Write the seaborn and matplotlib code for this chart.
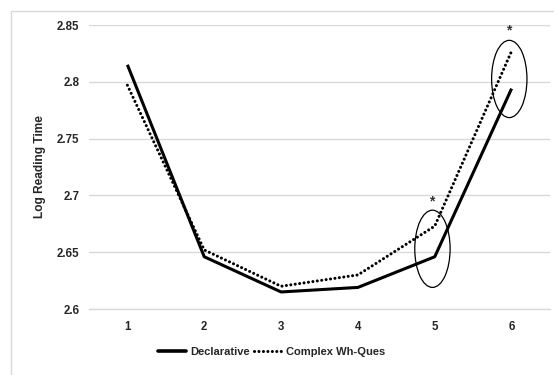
import pandas as pd
import numpy as np
import seaborn as sns
import matplotlib.pyplot as plt
from matplotlib.patches import Ellipse, Rectangle

# данные
positions = [1, 2, 3, 4, 5, 6]
declarative = [2.815, 2.646, 2.615, 2.619, 2.646, 2.794]
complex_wh = [2.797, 2.652, 2.620, 2.630, 2.673, 2.827]
series_names = ["Declarative", "Complex Wh-Ques"]

# отмеченные значимые различия (позиция, центр эллипса, звёздочка)
sig_positions = [5, 6]
ellipse_centers = [2.653, 2.8025]
star_y = [2.695, 2.8455]

df = pd.DataFrame({
    "pos": positions * 2,
    "rt": declarative + complex_wh,
    "cond": [series_names[0]] * 6 + [series_names[1]] * 6,
})

sns.set_style("white")
plt.rcParams["font.family"] = ["Liberation Sans", "DejaVu Sans"]
plt.rcParams["font.weight"] = "bold"

fig = plt.figure(figsize=(5.54, 3.75), dpi=100)
ax = fig.add_axes([0.1606, 0.176, 0.8322, 0.7573])

sns.lineplot(
    data=df, x="pos", y="rt", hue="cond", style="cond",
    palette=["black", "black"],
    dashes={series_names[0]: "", series_names[1]: (0.01, 1.45)},
    linewidth=2.2, ax=ax, legend=False,
)
for line in ax.lines:
    line.set_dash_capstyle("round")
    line.set_solid_capstyle("butt")

# эллипсы и звёздочки
for p, cy, sy in zip(sig_positions, ellipse_centers, star_y):
    ax.add_patch(Ellipse((p - 0.03, cy), 0.46, 0.068, fill=False,
                         edgecolor="black", linewidth=0.9))
    ax.text(p - 0.04, sy, "*", ha="center", va="center", fontsize=10,
            color="#333333")

ax.set_xlim(0.5, 6.5)
ax.set_ylim(2.6, 2.85)
ax.set_yticks(np.arange(2.6, 2.851, 0.05))
ax.set_yticklabels(["2.6", "2.65", "2.7", "2.75", "2.8", "2.85"])
ax.set_xticks(positions)
ax.set_xticks(np.arange(0.5, 6.6, 1), minor=True)
ax.tick_params(axis="x", which="major", length=0, pad=9, labelsize=8.3)
ax.tick_params(axis="x", which="minor", length=5, color="#d9d9d9", width=1)
ax.tick_params(axis="y", length=0, pad=7, labelsize=8.3)
for lab in ax.get_xticklabels() + ax.get_yticklabels():
    lab.set_fontweight("bold")

ax.grid(axis="y", color="#d9d9d9", linewidth=1)
ax.set_axisbelow(True)
for s in ["left", "right", "top"]:
    ax.spines[s].set_visible(False)
ax.spines["bottom"].set_color("#d9d9d9")
ax.spines["bottom"].set_linewidth(1)

ax.set_xlabel("")
ax.set_ylabel("Log Reading Time", fontsize=8.6, fontweight="bold", labelpad=8)

# легенда внизу
handles = [
    plt.Line2D([], [], color="black", linewidth=2.6),
    plt.Line2D([], [], color="black", linewidth=2.2, linestyle=(0, (0.01, 1.45)),
               dash_capstyle="round"),
]
fig.legend(handles, series_names, loc="center", bbox_to_anchor=(0.49, 0.061),
           ncol=2, frameon=False, handlelength=2.6,
           handletextpad=0.3, columnspacing=0.4,
           prop={"weight": "bold", "size": 8})

# рамка области диаграммы
fig.patches.append(Rectangle((0.02, -0.1), 1.2, 1.071, transform=fig.transFigure,
                             fill=False, edgecolor="#d9d9d9", linewidth=1))

plt.savefig("out.png", dpi=100)
